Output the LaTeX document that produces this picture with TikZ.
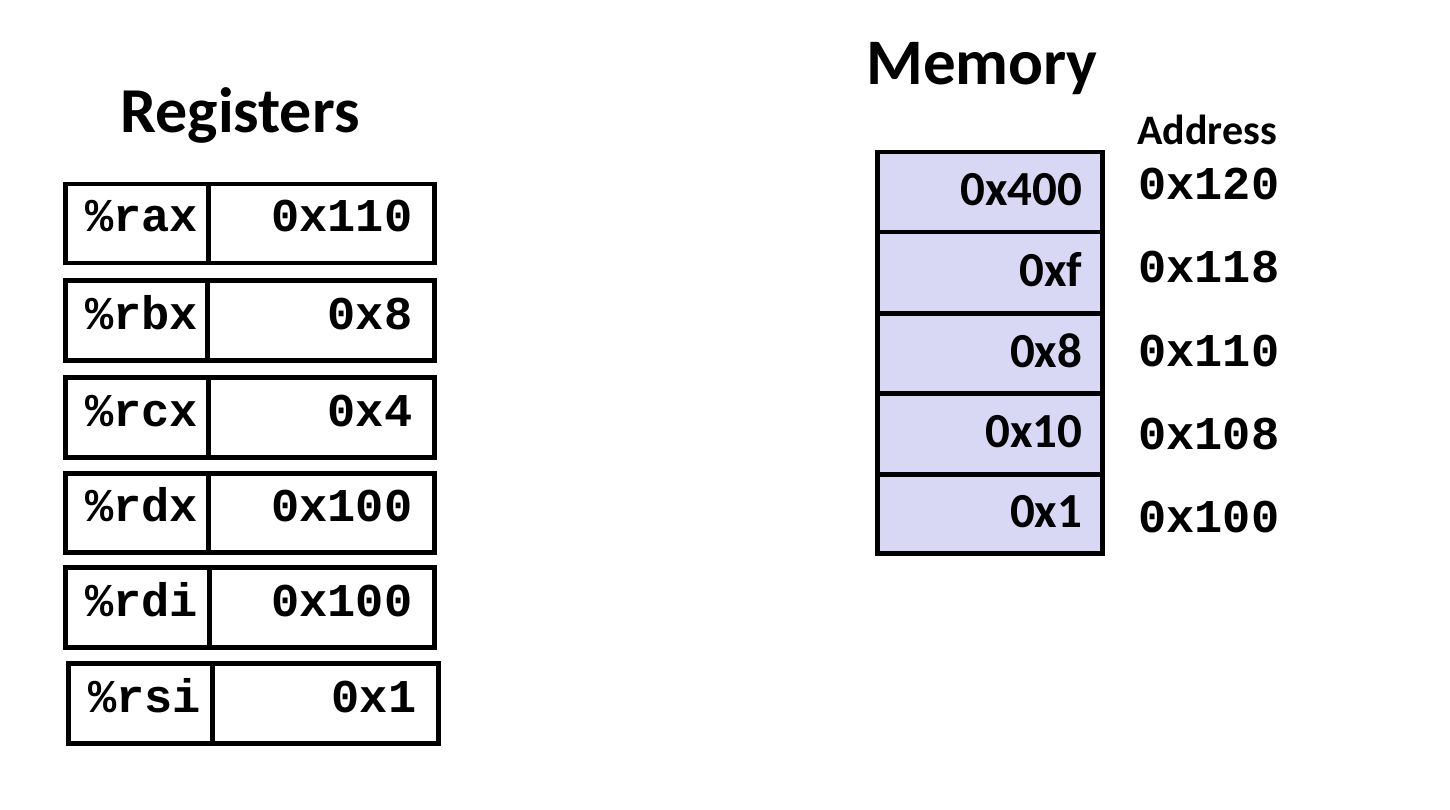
\documentclass[tikz,border=0pt]{standalone}
\usepackage{fontspec}
\setmainfont{Carlito}
\newfontfamily\regmono{Liberation Mono}
\usetikzlibrary{calc}
\definecolor{memfill}{RGB}{216,216,245}
\begin{document}
\begin{tikzpicture}[x=1pt,y=-1pt,
  cell/.style={draw, line width=4.5pt, rectangle, inner sep=0pt, anchor=north west},
  memcell/.style={cell, fill=memfill, minimum width=225pt},
  regname/.style={inner sep=0pt, anchor=base west, font=\regmono\bfseries\fontsize{47}{52}\selectfont},
  regval/.style={inner sep=0pt, anchor=base east, font=\regmono\bfseries\fontsize{47}{52}\selectfont},
  memval/.style={inner sep=0pt, anchor=base east, font=\bfseries\fontsize{49}{54}\selectfont},
  addr/.style={inner sep=0pt, anchor=base west, font=\regmono\bfseries\fontsize{47}{52}\selectfont},
  title/.style={inner sep=0pt, font=\bfseries\fontsize{64}{70}\selectfont}]
\fill[white] (0,0) rectangle (1450,810);
\useasboundingbox (0,0) rectangle (1450,810);

% titles
\node[title, anchor=base] (regtitle) at (240,133) {Registers};
\node[title, anchor=base west, font=\bfseries\fontsize{65}{72}\selectfont] (memtitle) at (866,85) {Memory};
\node[inner sep=0pt, anchor=base west, font=\bfseries\fontsize{42}{48}\selectfont] (addrtitle) at (1137,145) {Address};

% registers: left cell (name) and right cell (value)
\node[cell, minimum width=143pt, minimum height=79pt] (raxk) at (63,182) {};
\node[cell, minimum width=226pt, minimum height=79pt] (raxv) at (206,182) {};
\node[cell, minimum width=142pt, minimum height=80pt] (rbxk) at (63,278) {};
\node[cell, minimum width=227pt, minimum height=80pt] (rbxv) at (205,278) {};
\node[cell, minimum width=143pt, minimum height=80pt] (rcxk) at (63,375) {};
\node[cell, minimum width=226pt, minimum height=80pt] (rcxv) at (206,375) {};
\node[cell, minimum width=143pt, minimum height=79pt] (rdxk) at (63,471) {};
\node[cell, minimum width=226pt, minimum height=79pt] (rdxv) at (206,471) {};
\node[cell, minimum width=144pt, minimum height=80pt] (rdik) at (63,565) {};
\node[cell, minimum width=225pt, minimum height=80pt] (rdiv) at (207,565) {};
\node[cell, minimum width=144pt, minimum height=80pt] (rsik) at (66,661) {};
\node[cell, minimum width=226pt, minimum height=80pt] (rsiv) at (210,661) {};

\node[regname] (raxn) at ($(raxk.north west)+(22,50)$) {\%rax};
\node[regval]  (raxx) at ($(raxv.north east)+(-24,50)$) {0x110};
\node[regname] (rbxn) at ($(rbxk.north west)+(22,51)$) {\%rbx};
\node[regval]  (rbxx) at ($(rbxv.north east)+(-24,51)$) {0x8};
\node[regname] (rcxn) at ($(rcxk.north west)+(22,51)$) {\%rcx};
\node[regval]  (rcxx) at ($(rcxv.north east)+(-24,51)$) {0x4};
\node[regname] (rdxn) at ($(rdxk.north west)+(22,50)$) {\%rdx};
\node[regval]  (rdxx) at ($(rdxv.north east)+(-24,50)$) {0x100};
\node[regname] (rdin) at ($(rdik.north west)+(22,51)$) {\%rdi};
\node[regval]  (rdix) at ($(rdiv.north east)+(-24,51)$) {0x100};
\node[regname] (rsin) at ($(rsik.north west)+(22,51)$) {\%rsi};
\node[regval]  (rsix) at ($(rsiv.north east)+(-24,51)$) {0x1};

% memory cells
\node[memcell, minimum height=80pt] (m120) at (875,150) {};
\node[memcell, minimum height=81pt] (m118) at (875,230) {};
\node[memcell, minimum height=80pt] (m110) at (875,311) {};
\node[memcell, minimum height=81pt] (m108) at (875,391) {};
\node[memcell, minimum height=79pt] (m100) at (875,472) {};

\node[memval] (v120) at ($(m120.north east)+(-22,56)$) {0x400};
\node[memval] (v118) at ($(m118.north east)+(-22,56.5)$) {0xf};
\node[memval] (v110) at ($(m110.north east)+(-22,56)$) {0x8};
\node[memval] (v108) at ($(m108.north east)+(-22,56.5)$) {0x10};
\node[memval] (v100) at ($(m100.north east)+(-22,55.5)$) {0x1};

% addresses
\node[addr] (a120) at (1138,200) {0x120};
\node[addr] (a118) at (1138,283) {0x118};
\node[addr] (a110) at (1138,366) {0x110};
\node[addr] (a108) at (1138,449) {0x108};
\node[addr] (a100) at (1138,532) {0x100};
\end{tikzpicture}
\end{document}
